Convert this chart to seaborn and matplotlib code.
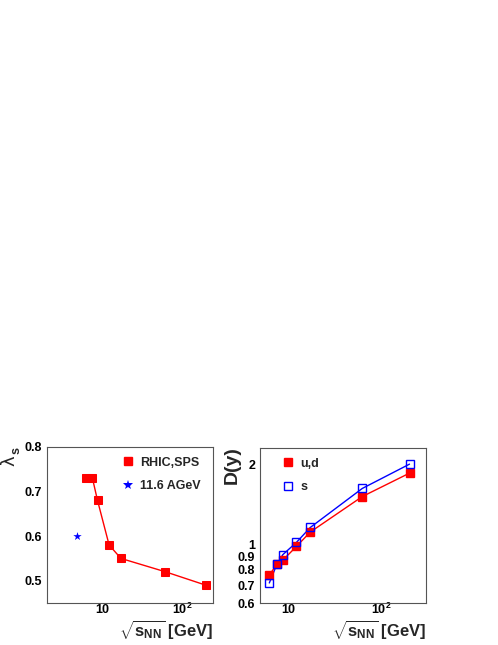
import matplotlib
matplotlib.use("Agg")
import matplotlib.pyplot as plt
import seaborn as sns
import pandas as pd
import numpy as np
from matplotlib.lines import Line2D
from matplotlib.ticker import LogLocator, FixedLocator, NullFormatter, FixedFormatter, MultipleLocator

sns.set_theme(style="white")
plt.rcParams['font.family'] = ['Liberation Sans', 'DejaVu Sans']
plt.rcParams['mathtext.fontset'] = 'custom'
plt.rcParams['mathtext.rm'] = 'Liberation Sans'
plt.rcParams['mathtext.it'] = 'Liberation Sans:italic'
plt.rcParams['mathtext.bf'] = 'Liberation Sans:bold'

energy = [6.3, 7.6, 8.8, 12.3, 17.3, 62.4, 200.0]
lambda_s = [0.73, 0.73, 0.68, 0.58, 0.55, 0.52, 0.49]
ags_energy = [4.86]
ags_lambda = [0.60]
D_ud = [0.765, 0.84, 0.87, 0.98, 1.11, 1.51, 1.85]
D_s = [0.714, 0.84, 0.913, 1.015, 1.155, 1.62, 2.0]

df_l = pd.DataFrame({"E": energy, "lam": lambda_s})
df_a = pd.DataFrame({"E": ags_energy, "lam": ags_lambda})
df_r = pd.DataFrame({"E": energy * 2, "D": D_ud + D_s,
                     "q": ["u,d"] * len(energy) + ["s"] * len(energy)})

fig = plt.figure(figsize=(4.98, 6.45), dpi=100)
axL = fig.add_axes([0.0944, 0.0651, 0.3333, 0.2419])
axR = fig.add_axes([0.522, 0.0651, 0.3333, 0.2403])

red = "#ff0000"
blue = "#0000ff"

# Left panel
sns.lineplot(data=df_l, x="E", y="lam", ax=axL, color=red, lw=1.0,
             marker="s", markersize=6, markeredgecolor=red, legend=False)
sns.scatterplot(data=df_a, x="E", y="lam", ax=axL, color=blue, marker="*",
                s=40, edgecolor=blue, linewidth=0, legend=False)
axL.set_xscale("log")
axL.set_xlim(2.05, 246)
axL.set_ylim(0.45, 0.8)
axL.yaxis.set_major_locator(FixedLocator([0.5, 0.6, 0.7, 0.8]))
axL.yaxis.set_major_formatter(FixedFormatter(["0.5", "0.6", "0.7", "0.8"]))
axL.yaxis.set_minor_locator(MultipleLocator(0.025))

# Right panel
sns.lineplot(data=df_r, x="E", y="D", hue="q", ax=axR,
             palette={"u,d": red, "s": blue}, lw=1.0, legend=False)
axR.plot(energy, D_ud, ls="none", marker="s", ms=6, color=red, mec=red)
axR.plot(energy, D_s, ls="none", marker="s", ms=6, mfc="none", mec=blue, mew=1.0)
axR.set_xscale("log")
axR.set_yscale("log")
axR.set_xlim(5.0, 300)
axR.set_ylim(0.6, 2.3)
axR.yaxis.set_major_locator(FixedLocator([0.6, 0.7, 0.8, 0.9, 1.0, 2.0]))
axR.yaxis.set_major_formatter(FixedFormatter(["0.6", "0.7", "0.8", "0.9", "1", "2"]))
axR.yaxis.set_minor_locator(FixedLocator([]))

for ax in (axL, axR):
    ax.xaxis.set_major_locator(FixedLocator([10, 100]))
    ax.xaxis.set_major_formatter(FixedFormatter(["10", r"$\mathbf{10^{2}}$"]))
    ax.xaxis.set_minor_locator(LogLocator(base=10, subs=np.arange(2, 10)))
    ax.xaxis.set_minor_formatter(NullFormatter())
    ax.tick_params(which="both", direction="in", top=False, right=False,
                   labelsize=9, colors="black")
    ax.tick_params(which="major", length=6, width=0.6, color="#555555")
    ax.tick_params(which="minor", length=3, width=0.6, color="#555555")
    for lab in ax.get_xticklabels() + ax.get_yticklabels():
        lab.set_fontweight("bold")
    for lab in ax.get_xticklabels():
        if "^" in lab.get_text():
            lab.set_y(0.015)
    for sp in ax.spines.values():
        sp.set_color("#555555")
        sp.set_linewidth(0.8)
    ax.set_xlabel("")
    ax.set_ylabel("")
    ax.xaxis.set_tick_params(pad=1)

hL = [Line2D([], [], ls="none", marker="s", ms=6, color=red, mec=red),
      Line2D([], [], ls="none", marker="*", ms=7, color=blue, mec=blue, mew=0)]
axL.legend(hL, ["RHIC,SPS", "11.6 AGeV"], loc="upper left", frameon=False,
           prop={"weight": "bold", "size": 9}, handletextpad=0.5,
           bbox_to_anchor=(0.42, 0.97), labelspacing=0.9, handlelength=1.0,
           borderaxespad=0.0)
hR = [Line2D([], [], ls="none", marker="s", ms=6, color=red, mec=red),
      Line2D([], [], ls="none", marker="s", ms=6, mfc="none", mec=blue, mew=1.0)]
axR.legend(hR, ["u,d", "s"], loc="upper left", frameon=False,
           prop={"weight": "bold", "size": 9}, handletextpad=0.5,
           bbox_to_anchor=(0.1, 0.97), labelspacing=0.9, handlelength=1.0,
           borderaxespad=0.0)

xlab = r"$\sqrt{\mathbf{s_{NN}}}$ [GeV]"
for ax in (axL, axR):
    ax.annotate(xlab, xy=(1.0, 0), xycoords="axes fraction",
                xytext=(1.0, 3), textcoords=("axes fraction", "figure pixels"),
                ha="right", va="bottom", fontsize=12, fontweight="bold")
axL.text(-0.225, 0.915, "λ", transform=axL.transAxes, ha="center",
         va="center", fontsize=13, rotation=90, family="DejaVu Sans")
axL.text(-0.185, 0.975, "s", transform=axL.transAxes, ha="center",
         va="center", fontsize=9, fontweight="bold", rotation=90)
axR.text(-0.165, 1.01, "D(y)", transform=axR.transAxes, ha="center", va="top",
         fontsize=14, fontweight="bold", rotation=90)

fig.savefig("out.png", dpi=100)
